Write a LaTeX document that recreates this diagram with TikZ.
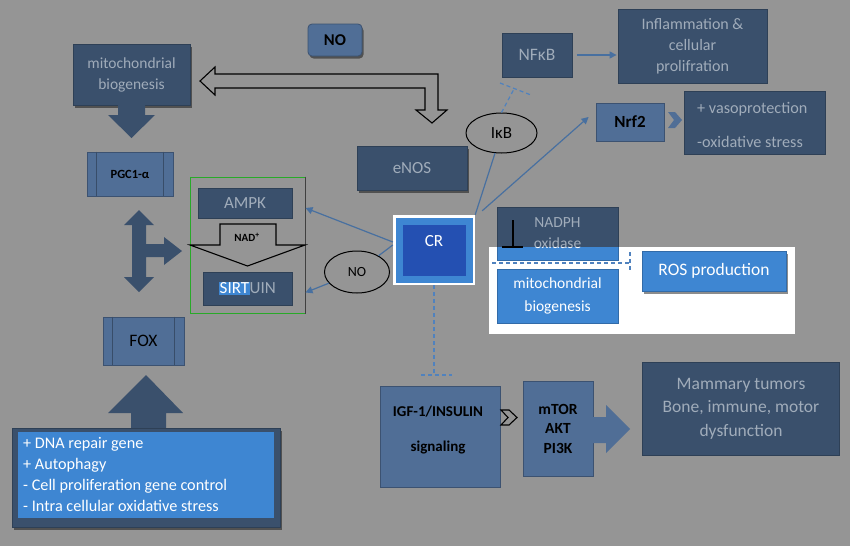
\documentclass[tikz,border=0pt]{standalone}
\usepackage{fontspec}
\setmainfont{Carlito}
\usetikzlibrary{arrows.meta,shapes.geometric,shadows,calc}
\definecolor{bg}{RGB}{149,149,149}
\definecolor{dk}{RGB}{58,80,108}
\definecolor{md}{RGB}{80,110,150}
\definecolor{br}{RGB}{62,134,210}
\definecolor{crin}{RGB}{36,80,178}
\definecolor{lt}{RGB}{160,172,186}
\definecolor{ln}{RGB}{72,112,160}
\definecolor{gr}{RGB}{40,170,40}
\definecolor{dsh}{RGB}{80,130,190}
\newcommand\myfs[2]{\fontsize{#1}{#2}\selectfont}
\tikzset{
  bx/.style={inner sep=0pt, align=center, line width=0.8pt},
  dkbox/.style={bx, fill=dk, draw=dk!80!black, text=lt},
  mdbox/.style={bx, fill=md, draw=md!75!black, text=black},
  brbox/.style={bx, fill=br, draw=br!80!black, text=white},
  shad/.style={drop shadow={shadow xshift=1.5pt, shadow yshift=-2.5pt, opacity=0.45, fill=black}},
  conn/.style={draw=ln, line width=1.2pt, -{Triangle[length=7pt,width=7pt]}},
  cline/.style={draw=ln, line width=1.2pt},
  dline/.style={draw=dsh, line width=1.2pt, dash pattern=on 4pt off 3pt},
  hollow/.style={draw=black, line width=1.1pt, line join=miter},
  block/.style={fill=dk},
  bar/.style={draw=md!70!black, line width=0.8pt},
  ell/.style={ellipse, draw=black, line width=1pt, inner sep=0pt, text=black}
}
\begin{document}
\begin{tikzpicture}[x=1pt,y=-1pt]
\useasboundingbox (0,0) rectangle (850,546);
\fill[bg] (0,0) rectangle (850,546);

% top NO
\node[mdbox, rounded corners=4pt, minimum width=54, minimum height=32, shad, font=\myfs{16.5}{20}\bfseries] (notop) at (335,40) {NO};

% mitochondrial biogenesis (left)
\node[dkbox, shad, minimum width=117, minimum height=61, font=\myfs{15.5}{21}] (mitoA) at (131.5,74.5) {mitochondrial\\biogenesis};
\fill[block] (118,105) -- (118,115) -- (108,115) -- (131.5,138) -- (155,115) -- (145,115) -- (145,105) -- cycle;

% hollow L arrow
\draw[hollow] (200,81) -- (215,67) -- (215,74) -- (438,74) -- (438,110) -- (447,110) -- (432,123) -- (416,110) -- (425,110) -- (425,88) -- (215,88) -- (215,95) -- cycle;

% eNOS
\node[dkbox, shad, minimum width=110, minimum height=44, font=\myfs{17}{20}] (enos) at (412,168) {eNOS};

% PGC1-alpha
\node[mdbox, minimum width=86, minimum height=44, font=\myfs{12.5}{15}\bfseries] (pgc) at (130,174) {PGC1-α};
\draw[bar] ($(pgc.north west)+(10,0)$) -- ($(pgc.south west)+(10,0)$);
\draw[bar] ($(pgc.north east)+(-10,0)$) -- ($(pgc.south east)+(-10,0)$);

% three-way arrow
\fill[block] (139,210) -- (154,225) -- (146,225) -- (146,244) -- (164,244) -- (164,237) -- (182,251) -- (164,265) -- (164,257) -- (146,257) -- (146,277) -- (154,277) -- (139,292) -- (124,277) -- (132,277) -- (132,225) -- (124,225) -- cycle;

% green group
\node[draw=gr, line width=1pt, minimum width=115, minimum height=136, inner sep=0pt] (grp) at (247.5,245) {};
\draw[black!75, line width=1pt] (grp.north east) -- (grp.south east);
\node[dkbox, minimum width=94, minimum height=30, font=\myfs{17}{20}] (ampk) at (245,203) {AMPK};
\draw[hollow] (220,224) -- (276,224) -- (276,245) -- (305,245) -- (247.5,266) -- (190,245) -- (220,245) -- cycle;
\node[font=\myfs{11}{13}\bfseries, text=black, inner sep=0pt] (nad) at (247,237) {NAD\textsuperscript{+}};
\node[dkbox, minimum width=89, minimum height=33, font=\myfs{17}{20}] (sirt) at (247.5,288.5) {{\setlength\fboxsep{0.6pt}\colorbox{br}{\color{white}SIRT}}UIN};

% FOX
\node[mdbox, minimum width=81, minimum height=48, font=\myfs{17.5}{20}] (fox) at (143.5,341) {FOX};
\draw[bar] ($(fox.north west)+(10,0)$) -- ($(fox.south west)+(10,0)$);
\draw[bar] ($(fox.north east)+(-10,0)$) -- ($(fox.south east)+(-10,0)$);

% bottom-left box and big arrow
\fill[block] (131,429) -- (131,413) -- (108,413) -- (146,375) -- (183,413) -- (166,413) -- (166,429) -- cycle;
\node[dkbox, shad, minimum width=268, minimum height=99] (dna) at (146,477.5) {};
\fill[br] ($(dna.north west)+(6,4)$) rectangle ($(dna.south east)+(-6,-9)$);
\node[anchor=west, align=left, text=white, inner sep=0pt, font=\myfs{16.2}{21.3}] (dnatxt) at (23,474.5) {+ DNA repair gene\\+ Autophagy\\- Cell proliferation gene control\\- Intra cellular oxidative stress};

% NO ellipse
\node[ell, minimum width=65, minimum height=42, font=\myfs{14}{16}] (no2) at (357,272) {NO};

% CR
\node[fill=white, minimum width=82, minimum height=70, inner sep=0pt] (cr) at (434,250) {};
\fill[br] ($(cr.north west)+(3,3)$) rectangle ($(cr.south east)+(-2,-2)$);
\fill[crin] ($(cr.north west)+(10,10)$) rectangle ($(cr.south east)+(-9,-9)$);
\node[text=white, font=\myfs{17}{20}, inner sep=0pt] (crtxt) at (434,241) {CR};

% IkB
\node[ell, minimum width=71, minimum height=40, font=\myfs{17}{20}] (ikb) at (501.5,133) {IκB};

% NFkB, inflammation
\node[dkbox, minimum width=70, minimum height=44, font=\myfs{17.5}{20}] (nfkb) at (537,55) {NFκB};
\node[dkbox, minimum width=149, minimum height=74, font=\myfs{16}{21}] (infl) at (692.5,46) {Inflammation \&\\cellular\\prolifration};

% Nrf2, vaso
\node[mdbox, minimum width=68, minimum height=38, font=\myfs{17}{20}\bfseries] (nrf2) at (630,122) {Nrf2};
\node[dkbox, minimum width=141, minimum height=63, font=\myfs{16.2}{19}] (vaso) at (754.5,122.5) {};
\node[anchor=west, align=left, text=lt, inner sep=0pt, font=\myfs{16.2}{34}] (vasotxt) at (697,124.5) {+ vasoprotection\\-oxidative stress};
\fill[md] (668,112) -- (675,112) -- (682,120) -- (675,128) -- (668,128) -- (674,120) -- cycle;

% NADPH oxidase (dark part)
\node[dkbox, minimum width=121, minimum height=53, font=\myfs{15.5}{21}] (nadph) at (557.5,233.5) {NADPH\\oxidase};

% white panel
\fill[white] (489,247) rectangle (795,334);
\begin{scope}
\clip (489,247) rectangle (795,334);
\node[brbox, minimum width=121, minimum height=53, font=\myfs{15.5}{21}] at (557.5,233.5) {NADPH\\oxidase};
\end{scope}
\draw[black, line width=1.3pt] (513,220) -- (513,247);
\draw[black, line width=1.3pt] (502,247) -- (523,247);

\coordinate (sepL) at (492,263);
\coordinate (sepR) at (630,263);
\draw[dline] (sepL) -- (sepR);
\draw[dline] ($(sepR)+(0,-11)$) -- ($(sepR)+(0,9)$);

\node[brbox, minimum width=121, minimum height=54, font=\myfs{15.5}{23}] (mitoB) at (557.5,296) {mitochondrial\\biogenesis};
\node[brbox, shad, minimum width=144, minimum height=40, font=\myfs{17.5}{20}] (ros) at (714,271) {ROS production};

% IGF, mTOR, mammary
\node[mdbox, minimum width=120, minimum height=101] (igf) at (440,436.5) {};
\node[align=center, text=black, inner sep=0pt, font=\myfs{15}{35}\bfseries] (igftxt) at (438,430) {IGF-1/INSULIN\\signaling};
\draw[hollow, fill=bg] (501,410) -- (509,410) -- (517,417.5) -- (509,425) -- (501,425) -- (508,417.5) -- cycle;
\node[mdbox, minimum width=70, minimum height=95, font=\myfs{15.5}{19.5}\bfseries] (mtor) at (558,428.5) {mTOR\\AKT\\PI3K};
\fill[md] (593,417) -- (606,417) -- (606,405) -- (630,429) -- (606,453) -- (606,443) -- (593,443) -- cycle;
\node[dkbox, minimum width=197, minimum height=93, font=\myfs{17.5}{23.5}] (mamm) at (741,408.5) {Mammary tumors\\Bone, immune, motor\\dysfunction};

% connectors
\draw[conn] ($(cr.west)+(0,-8)$) -- ($(ampk.center -| grp.east)+(0,5)$);
\draw[cline] ($(cr.west)+(0,-5)$) -- (no2);
\draw[conn] (no2) -- ($(sirt.center -| grp.east)+(0,4)$);
\draw[cline] (cr.north east) -- (ikb);
\draw[conn] ($(cr.north east)+(7,-4)$) -- ($(nrf2.west)+(-7,-5)$);
\draw[conn, shorten <=5pt, shorten >=1pt] (nfkb.east) -- (nfkb.east -| infl.west);

\coordinate (nfT) at (514,89);
\draw[dline] (ikb.north) -- (nfT);
\draw[dline] ($(nfT)+(-14,-6)$) -- ($(nfT)+(17,6)$);

\coordinate (igfT) at (434,375);
\draw[dline] (cr.south) -- (igfT);
\draw[dline] ($(igfT)+(-13,0)$) -- ($(igfT)+(18,0)$);
\end{tikzpicture}
\end{document}
